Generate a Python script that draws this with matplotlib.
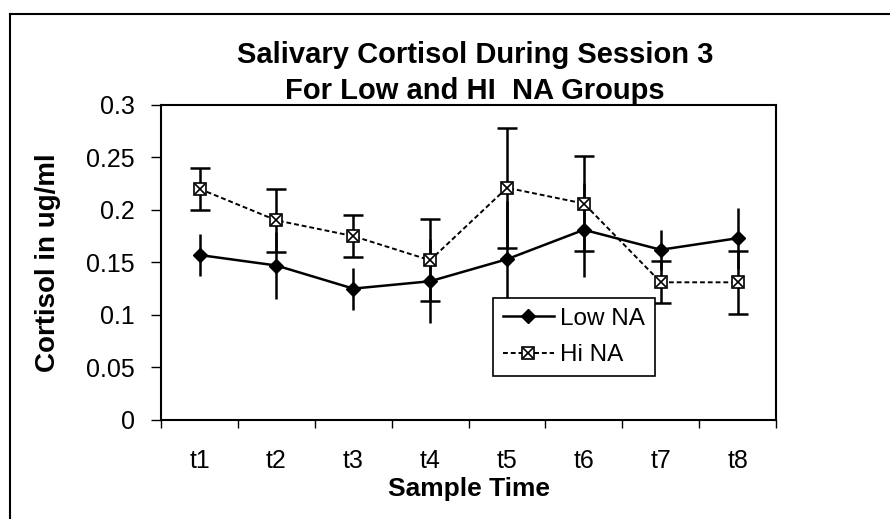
#!/usr/bin/env python3
"""
Salivary cortisol during session 3 for Low and Hi NA groups.
"""

import matplotlib
matplotlib.use('Agg')
import matplotlib.pyplot as plt
from matplotlib.lines import Line2D
import numpy as np

categories = ['t1', 't2', 't3', 't4', 't5', 't6', 't7', 't8']
low_na = [0.157, 0.147, 0.125, 0.132, 0.153, 0.181, 0.162, 0.173]
low_err = [0.020, 0.032, 0.020, 0.040, 0.055, 0.045, 0.019, 0.029]
hi_na = [0.220, 0.190, 0.175, 0.152, 0.221, 0.206, 0.131, 0.131]
hi_err = [0.020, 0.030, 0.020, 0.039, 0.057, 0.045, 0.020, 0.030]
y_ticks = [0, 0.05, 0.1, 0.15, 0.2, 0.25, 0.3]
y_tick_labels = ['0', '0.05', '0.1', '0.15', '0.2', '0.25', '0.3']

plt.rcParams['font.family'] = ['Liberation Sans', 'DejaVu Sans']

fig = plt.figure(figsize=(8.9, 5.19), dpi=100)
ax = fig.add_axes([0.181, 0.191, 0.691, 0.607])

x = np.arange(1, len(categories) + 1)

# Low NA: solid line, diamonds, error bars without caps
ax.errorbar(x, low_na, yerr=low_err, fmt='none', ecolor='black',
            elinewidth=1.8, capsize=0, zorder=2)
low_line, = ax.plot(x, low_na, color='black', linewidth=1.8, marker='D',
                    markersize=7, markerfacecolor='black', zorder=3)

# Hi NA: dotted line, patterned square markers, capped error bars
ax.errorbar(x, hi_na, yerr=hi_err, fmt='none', ecolor='black',
            elinewidth=1.8, capsize=7, capthick=1.8, zorder=2)
hi_line, = ax.plot(x, hi_na, color='black', linewidth=1.4,
                   linestyle=(0, (2.5, 1.5)), marker='s', markersize=8,
                   markerfacecolor='white', markeredgecolor='black',
                   markeredgewidth=1.2, zorder=3)
hi_cross, = ax.plot(x, hi_na, linestyle='none', marker='x', markersize=7,
                    markeredgecolor='black', markeredgewidth=1.2, zorder=4)

ax.set_xlim(0.5, len(categories) + 0.5)
ax.set_ylim(0, 0.3)
ax.set_yticks(y_ticks)
ax.set_yticklabels(y_tick_labels, fontsize=18)

# ticks at category boundaries, labels at centres
ax.set_xticks(np.arange(0.5, len(categories) + 1, 1))
ax.set_xticklabels([])
ax.set_xticks(x, minor=True)
ax.set_xticklabels(categories, minor=True, fontsize=18)
ax.tick_params(axis='x', which='major', direction='out', length=6, width=1)
ax.tick_params(axis='x', which='minor', length=0, pad=21)
ax.tick_params(axis='y', direction='out', length=7, width=1, pad=12)

for spine in ax.spines.values():
    spine.set_linewidth(1.5)
    spine.set_color('black')

ax.set_xlabel('Sample Time', fontsize=19, fontweight='bold', labelpad=3)
ax.set_ylabel('Cortisol in ug/ml', fontsize=20, fontweight='bold', labelpad=18)
ax.set_title('Salivary Cortisol During Session 3\nFor Low and HI  NA Groups',
             fontsize=21, fontweight='bold', linespacing=1.35, pad=2, x=0.51)

leg = ax.legend([low_line, (hi_line, hi_cross)], ['Low NA', 'Hi NA'],
                loc='upper left', bbox_to_anchor=(0.540, 0.387),
                borderaxespad=0, fontsize=17.5, frameon=True, fancybox=False,
                framealpha=1, handlelength=2.1, handletextpad=0.25,
                borderpad=0.4, labelspacing=0.6)
leg.get_frame().set_edgecolor('black')
leg.get_frame().set_linewidth(1.2)

# outer chart frame (left and top edges visible in the scan)
fig.add_artist(Line2D([0.011, 0.011], [0.0, 0.973], transform=fig.transFigure,
                      color='black', linewidth=1.5))
fig.add_artist(Line2D([0.011, 1.0], [0.973, 0.973], transform=fig.transFigure,
                      color='black', linewidth=1.5))

plt.savefig('out.png', dpi=100)
